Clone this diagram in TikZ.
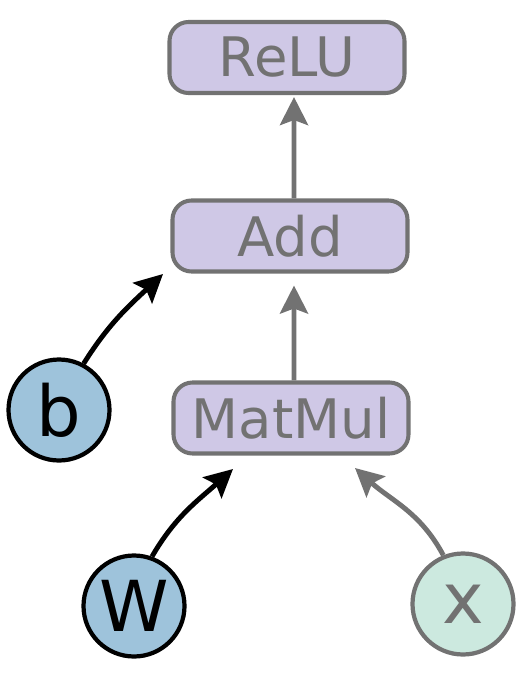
\documentclass[tikz,border=0pt]{standalone}
\usepackage{fontspec}
\setmainfont{DejaVu Sans}
\usepackage{xcolor}
\definecolor{opFill}{HTML}{CFC8E6}
\definecolor{opDraw}{HTML}{727272}
\definecolor{paramFill}{HTML}{9EC3DB}
\definecolor{inputFill}{HTML}{CCE9DF}
\usetikzlibrary{arrows.meta}
\tikzset{
  opbox/.style={draw=opDraw, fill=opFill, line width=2.3pt, rounded corners=0.38cm,
    minimum width=4.7cm, minimum height=1.42cm, inner sep=0pt, text=opDraw,
    font=\fontsize{31}{36}\selectfont},
  parambox/.style={circle, draw=black, fill=paramFill, line width=2.4pt,
    minimum size=2.02cm, inner sep=0pt, font=\fontsize{40}{46}\selectfont},
  inputbox/.style={parambox, draw=opDraw, fill=inputFill, text=opDraw},
  flow/.style={line width=2.8pt, -{Stealth[length=0.56cm,width=0.56cm,inset=0.1cm]}},
}

\begin{document}
\begin{tikzpicture}
  \useasboundingbox (0cm,0cm) rectangle (10.48cm,-13.48cm);
  % operations
  \node[opbox] (relu) at (5.74cm,-1.15cm) {ReLU};
  \node[opbox] (add) at (5.80cm,-4.72cm) {Add};
  \node[opbox] (matmul) at (5.82cm,-8.36cm) {MatMul};
  % parameters and input
  \node[parambox] (b) at (1.18cm,-8.20cm) {b};
  \node[parambox] (W) at (2.68cm,-12.12cm) {W};
  \node[inputbox] (x) at (9.26cm,-12.08cm) {x};
  % free arrow ends
  \coordinate (addin) at (3.26cm,-5.48cm);
  \coordinate (mmleft) at (4.66cm,-9.38cm);
  \coordinate (mmright) at (7.10cm,-9.36cm);
  % edges
  \draw[flow, opDraw, shorten >=0.04cm] ([xshift=0.08cm]add.north) -- ([xshift=0.14cm]relu.south);
  \draw[flow, opDraw, shorten >=0.24cm] ([xshift=0.06cm]matmul.north) -- ([xshift=0.08cm]add.south);
  \draw[flow] (b.62) to[out=58, in=223] (addin);
  \draw[flow] (W.70) to[out=60, in=222] (mmleft);
  \draw[flow, opDraw] (x.112) to[out=118, in=-42] (mmright);
\end{tikzpicture}
\end{document}
